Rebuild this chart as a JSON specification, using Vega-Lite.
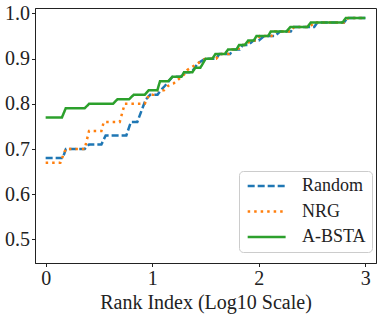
{
  "$schema": "https://vega.github.io/schema/vega-lite/v6.json",
  "autosize": "none",
  "width": 341,
  "height": 255,
  "padding": {"left": 35, "top": 8, "right": 6, "bottom": 53},
  "background": "white",
  "config": {
    "font": "Liberation Serif",
    "view": {"stroke": "#222", "strokeWidth": 1},
    "axis": {
      "grid": false,
      "domainColor": "#222",
      "tickColor": "#222",
      "tickSize": 3.5,
      "labelColor": "#222",
      "titleColor": "#222",
      "labelFont": "Liberation Serif",
      "titleFont": "Liberation Serif",
      "labelFontSize": 20,
      "titleFontSize": 20,
      "titleFontWeight": "normal"
    },
    "legend": {
      "labelFont": "Liberation Serif",
      "labelFontSize": 18,
      "labelColor": "#222"
    }
  },
  "datasets": {
    "curves": [
      {"series": "Random", "x": 0, "y": 0.68},
      {"series": "Random", "x": 0.16, "y": 0.68},
      {"series": "Random", "x": 0.19, "y": 0.70},
      {"series": "Random", "x": 0.366, "y": 0.70},
      {"series": "Random", "x": 0.407, "y": 0.71},
      {"series": "Random", "x": 0.523, "y": 0.71},
      {"series": "Random", "x": 0.563, "y": 0.73},
      {"series": "Random", "x": 0.757, "y": 0.73},
      {"series": "Random", "x": 0.80, "y": 0.76},
      {"series": "Random", "x": 0.86, "y": 0.76},
      {"series": "Random", "x": 0.94, "y": 0.81},
      {"series": "Random", "x": 0.98, "y": 0.82},
      {"series": "Random", "x": 1.05, "y": 0.82},
      {"series": "Random", "x": 1.08, "y": 0.83},
      {"series": "Random", "x": 1.12, "y": 0.84},
      {"series": "Random", "x": 1.19, "y": 0.86},
      {"series": "Random", "x": 1.27, "y": 0.86},
      {"series": "Random", "x": 1.30, "y": 0.87},
      {"series": "Random", "x": 1.37, "y": 0.87},
      {"series": "Random", "x": 1.43, "y": 0.89},
      {"series": "Random", "x": 1.50, "y": 0.90},
      {"series": "Random", "x": 1.60, "y": 0.90},
      {"series": "Random", "x": 1.63, "y": 0.91},
      {"series": "Random", "x": 1.73, "y": 0.91},
      {"series": "Random", "x": 1.76, "y": 0.92},
      {"series": "Random", "x": 1.82, "y": 0.92},
      {"series": "Random", "x": 1.85, "y": 0.93},
      {"series": "Random", "x": 1.90, "y": 0.93},
      {"series": "Random", "x": 1.95, "y": 0.94},
      {"series": "Random", "x": 2.00, "y": 0.94},
      {"series": "Random", "x": 2.05, "y": 0.95},
      {"series": "Random", "x": 2.15, "y": 0.95},
      {"series": "Random", "x": 2.20, "y": 0.96},
      {"series": "Random", "x": 2.30, "y": 0.96},
      {"series": "Random", "x": 2.33, "y": 0.97},
      {"series": "Random", "x": 2.52, "y": 0.97},
      {"series": "Random", "x": 2.55, "y": 0.98},
      {"series": "Random", "x": 2.80, "y": 0.98},
      {"series": "Random", "x": 2.83, "y": 0.99},
      {"series": "Random", "x": 3.0, "y": 0.99},
      {"series": "NRG", "x": 0, "y": 0.67},
      {"series": "NRG", "x": 0.138, "y": 0.67},
      {"series": "NRG", "x": 0.188, "y": 0.70},
      {"series": "NRG", "x": 0.366, "y": 0.70},
      {"series": "NRG", "x": 0.407, "y": 0.74},
      {"series": "NRG", "x": 0.523, "y": 0.74},
      {"series": "NRG", "x": 0.545, "y": 0.76},
      {"series": "NRG", "x": 0.695, "y": 0.76},
      {"series": "NRG", "x": 0.742, "y": 0.80},
      {"series": "NRG", "x": 0.93, "y": 0.80},
      {"series": "NRG", "x": 0.97, "y": 0.82},
      {"series": "NRG", "x": 1.01, "y": 0.82},
      {"series": "NRG", "x": 1.04, "y": 0.83},
      {"series": "NRG", "x": 1.11, "y": 0.83},
      {"series": "NRG", "x": 1.15, "y": 0.84},
      {"series": "NRG", "x": 1.20, "y": 0.845},
      {"series": "NRG", "x": 1.30, "y": 0.865},
      {"series": "NRG", "x": 1.33, "y": 0.875},
      {"series": "NRG", "x": 1.43, "y": 0.89},
      {"series": "NRG", "x": 1.50, "y": 0.90},
      {"series": "NRG", "x": 1.60, "y": 0.90},
      {"series": "NRG", "x": 1.64, "y": 0.91},
      {"series": "NRG", "x": 1.72, "y": 0.91},
      {"series": "NRG", "x": 1.75, "y": 0.92},
      {"series": "NRG", "x": 1.80, "y": 0.92},
      {"series": "NRG", "x": 1.84, "y": 0.93},
      {"series": "NRG", "x": 1.88, "y": 0.93},
      {"series": "NRG", "x": 1.92, "y": 0.94},
      {"series": "NRG", "x": 1.98, "y": 0.94},
      {"series": "NRG", "x": 2.01, "y": 0.95},
      {"series": "NRG", "x": 2.12, "y": 0.95},
      {"series": "NRG", "x": 2.15, "y": 0.96},
      {"series": "NRG", "x": 2.30, "y": 0.96},
      {"series": "NRG", "x": 2.33, "y": 0.97},
      {"series": "NRG", "x": 2.48, "y": 0.97},
      {"series": "NRG", "x": 2.52, "y": 0.98},
      {"series": "NRG", "x": 2.80, "y": 0.98},
      {"series": "NRG", "x": 2.84, "y": 0.99},
      {"series": "NRG", "x": 3.0, "y": 0.99},
      {"series": "A-BSTA", "x": 0, "y": 0.77},
      {"series": "A-BSTA", "x": 0.153, "y": 0.77},
      {"series": "A-BSTA", "x": 0.188, "y": 0.79},
      {"series": "A-BSTA", "x": 0.366, "y": 0.79},
      {"series": "A-BSTA", "x": 0.407, "y": 0.80},
      {"series": "A-BSTA", "x": 0.632, "y": 0.80},
      {"series": "A-BSTA", "x": 0.673, "y": 0.81},
      {"series": "A-BSTA", "x": 0.782, "y": 0.81},
      {"series": "A-BSTA", "x": 0.826, "y": 0.82},
      {"series": "A-BSTA", "x": 0.93, "y": 0.82},
      {"series": "A-BSTA", "x": 0.967, "y": 0.83},
      {"series": "A-BSTA", "x": 1.048, "y": 0.83},
      {"series": "A-BSTA", "x": 1.073, "y": 0.85},
      {"series": "A-BSTA", "x": 1.149, "y": 0.85},
      {"series": "A-BSTA", "x": 1.19, "y": 0.86},
      {"series": "A-BSTA", "x": 1.274, "y": 0.86},
      {"series": "A-BSTA", "x": 1.299, "y": 0.87},
      {"series": "A-BSTA", "x": 1.377, "y": 0.87},
      {"series": "A-BSTA", "x": 1.405, "y": 0.88},
      {"series": "A-BSTA", "x": 1.452, "y": 0.88},
      {"series": "A-BSTA", "x": 1.502, "y": 0.90},
      {"series": "A-BSTA", "x": 1.565, "y": 0.90},
      {"series": "A-BSTA", "x": 1.593, "y": 0.91},
      {"series": "A-BSTA", "x": 1.68, "y": 0.91},
      {"series": "A-BSTA", "x": 1.711, "y": 0.92},
      {"series": "A-BSTA", "x": 1.79, "y": 0.92},
      {"series": "A-BSTA", "x": 1.815, "y": 0.93},
      {"series": "A-BSTA", "x": 1.869, "y": 0.93},
      {"series": "A-BSTA", "x": 1.9, "y": 0.94},
      {"series": "A-BSTA", "x": 1.953, "y": 0.94},
      {"series": "A-BSTA", "x": 1.978, "y": 0.95},
      {"series": "A-BSTA", "x": 2.088, "y": 0.95},
      {"series": "A-BSTA", "x": 2.113, "y": 0.96},
      {"series": "A-BSTA", "x": 2.26, "y": 0.96},
      {"series": "A-BSTA", "x": 2.297, "y": 0.97},
      {"series": "A-BSTA", "x": 2.457, "y": 0.97},
      {"series": "A-BSTA", "x": 2.488, "y": 0.98},
      {"series": "A-BSTA", "x": 2.786, "y": 0.98},
      {"series": "A-BSTA", "x": 2.817, "y": 0.99},
      {"series": "A-BSTA", "x": 3.0, "y": 0.99}
    ]
  },
  "data": {"name": "curves"},
  "encoding": {
    "x": {
      "field": "x", "type": "quantitative",
      "scale": {"domain": [-0.1, 3.1], "nice": false, "zero": false},
      "axis": {"values": [0, 1, 2, 3], "format": "d", "title": "Rank Index (Log10 Scale)", "labelPadding": 2, "titlePadding": 4}
    },
    "y": {
      "field": "y", "type": "quantitative",
      "scale": {"domain": [0.448, 1.012], "nice": false, "zero": false},
      "axis": {"values": [0.5, 0.6, 0.7, 0.8, 0.9, 1.0], "format": ".1f", "title": null, "labelPadding": 2}
    },
    "color": {
      "field": "series", "type": "nominal",
      "scale": {"domain": ["Random", "NRG", "A-BSTA"], "range": ["#1f77b4", "#ff7f0e", "#2ca02c"]},
      "legend": {
        "title": null,
        "orient": "none",
        "legendX": 204,
        "legendY": 163,
        "symbolType": "M-1,0L5,0",
        "symbolSize": 160,
        "symbolStrokeWidth": 2.5,
        "labelOffset": 39,
        "rowPadding": 7.5,
        "padding": 6,
        "fillColor": "rgba(255,255,255,0.8)",
        "strokeColor": "#cccccc",
        "cornerRadius": 4
      }
    },
    "strokeDash": {
      "field": "series", "type": "nominal",
      "scale": {"domain": ["Random", "NRG", "A-BSTA"], "range": [[7, 3], [2.5, 4], [1, 0]]},
      "legend": {
        "title": null,
        "orient": "none",
        "legendX": 204,
        "legendY": 163,
        "symbolType": "M-1,0L5,0",
        "symbolSize": 160,
        "symbolStrokeWidth": 2.5,
        "labelOffset": 39,
        "rowPadding": 7.5,
        "padding": 6,
        "fillColor": "rgba(255,255,255,0.8)",
        "strokeColor": "#cccccc",
        "cornerRadius": 4
      }
    }
  },
  "layer": [
    {"transform": [{"filter": "datum.series === 'Random'"}], "mark": {"type": "line", "strokeWidth": 2.5}},
    {"transform": [{"filter": "datum.series === 'NRG'"}], "mark": {"type": "line", "strokeWidth": 2.5}},
    {"transform": [{"filter": "datum.series === 'A-BSTA'"}], "mark": {"type": "line", "strokeWidth": 2.5}}
  ]
}
